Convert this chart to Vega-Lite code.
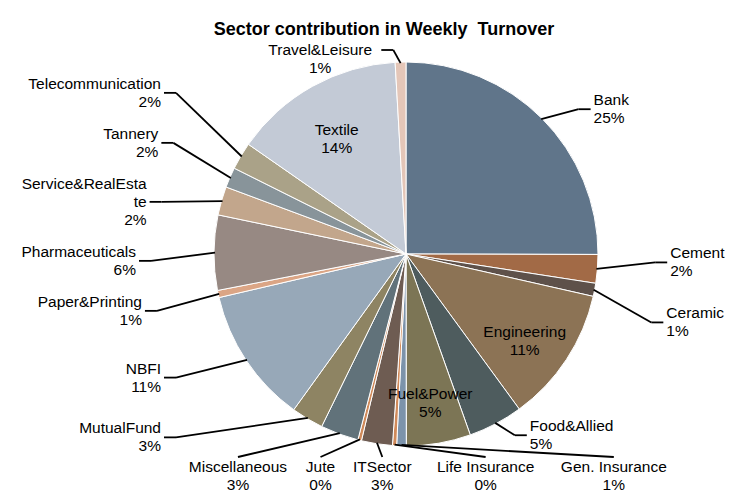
{
  "$schema": "https://vega.github.io/schema/vega-lite/v6.json",
  "width": 684,
  "height": 428,
  "autosize": "none",
  "padding": {"left": 64, "top": 40, "right": 0, "bottom": 26},
  "background": "white",
  "config": {"view": {"stroke": null}, "text": {"font": "Liberation Sans", "fontSize": 15.5, "lineHeight": 18, "color": "#000000"}},
  "title": {"text": "Sector contribution in Weekly \u00a0Turnover", "font": "Liberation Sans", "fontSize": 18, "fontWeight": "bold", "color": "#000000", "anchor": "middle", "dx": -22, "dy": 4, "offset": 5},
  "data": {"values": [
    {"sector": "Bank", "value": 25.0},
    {"sector": "Cement", "value": 2.4},
    {"sector": "Ceramic", "value": 1.1},
    {"sector": "Engineering", "value": 11.4},
    {"sector": "Food&Allied", "value": 4.6},
    {"sector": "Fuel&Power", "value": 5.4},
    {"sector": "Gen. Insurance", "value": 0.8},
    {"sector": "Life Insurance", "value": 0.35},
    {"sector": "ITSector", "value": 2.6},
    {"sector": "Jute", "value": 0.3},
    {"sector": "Miscellaneous", "value": 3.2},
    {"sector": "MutualFund", "value": 2.7},
    {"sector": "NBFI", "value": 11.4},
    {"sector": "Paper&Printing", "value": 0.6},
    {"sector": "Pharmaceuticals", "value": 6.3},
    {"sector": "Service&RealEstate", "value": 2.4},
    {"sector": "Tannery", "value": 1.7},
    {"sector": "Telecommunication", "value": 2.3},
    {"sector": "Textile", "value": 14.4},
    {"sector": "Travel&Leisure", "value": 0.9}
  ]},
  "transform": [
    {"window": [{"op": "row_number", "as": "idx"}]},
    {"joinaggregate": [{"op": "sum", "field": "value", "as": "total"}]},
    {"window": [{"op": "sum", "field": "value", "as": "cum"}], "sort": [{"field": "idx"}], "frame": [null, 0]},
    {"calculate": "(datum.cum - datum.value/2)/datum.total*2*PI", "as": "mid"},
    {"calculate": "format(datum.value/datum.total, '.0%')", "as": "pct"},
    {"calculate": "(length(datum.sector) > 17 ? substring(datum.sector, 0, 16) + '\\n' + substring(datum.sector, 16) : datum.sector) + '\\n' + datum.pct", "as": "label"},
    {"calculate": "length(datum.sector) > 17 ? 3 : 2", "as": "nl"},
    {"calculate": "indexof(['Textile', 'Engineering', 'Fuel&Power'], datum.sector) >= 0 ? 'I' : (datum.mid >= 5.847 || datum.mid < 0.436) ? 'T' : datum.mid < 2.688 ? 'R' : datum.mid < 3.595 ? 'B' : 'L'", "as": "side"},
    {"calculate": "datum.side == 'R' ? -205*cos(datum.mid) : datum.side == 'L' ? 205*cos(datum.mid) : datum.side == 'B' ? 208*tan(datum.mid - PI) : 0", "as": "q"},
    {"calculate": "datum.side == 'B' ? length(datum.sector)*8.3 : datum.nl*18", "as": "sz"},
    {"window": [{"op": "lag", "field": "sz", "as": "psz"}, {"op": "row_number", "as": "k"}], "groupby": ["side"], "sort": [{"field": "idx"}]},
    {"calculate": "datum.k == 1 ? 0 : (datum.psz + datum.sz)/2 + (datum.side == 'B' ? 12 : datum.side == 'R' ? 24 : 14)", "as": "sep"},
    {"window": [{"op": "sum", "field": "sep", "as": "G"}], "groupby": ["side"], "sort": [{"field": "idx"}], "frame": [null, 0]},
    {"calculate": "datum.q - datum.G", "as": "v"},
    {"window": [{"op": "max", "field": "v", "as": "vf"}], "groupby": ["side"], "sort": [{"field": "idx"}], "frame": [null, 0]},
    {"window": [{"op": "min", "field": "v", "as": "vb"}], "groupby": ["side"], "sort": [{"field": "idx"}], "frame": [0, null]},
    {"calculate": "datum.side == 'B' ? 0.3 : 0.8", "as": "w"},
    {"calculate": "datum.w*datum.vf + (1 - datum.w)*datum.vb + datum.G", "as": "qp"},
    {"calculate": "datum.side == 'R' ? 265*sin(datum.mid) : datum.side == 'L' ? -max(245, 270*abs(sin(datum.mid))) : datum.side == 'B' ? -datum.qp : datum.side == 'T' ? 205*sin(datum.mid) - 80 : 142*sin(datum.mid)", "as": "ax"},
    {"calculate": "datum.side == 'R' ? datum.qp : datum.side == 'L' ? -datum.qp : datum.side == 'B' ? 206 : datum.side == 'T' ? -195 : -142*cos(datum.mid)", "as": "ay"},
    {"calculate": "(datum.side == 'R' || datum.side == 'L' || datum.side == 'T') ? datum.ay - (datum.nl - 1)*9 : datum.ay", "as": "ty"},
    {"calculate": "191*sin(datum.mid)", "as": "sx"},
    {"calculate": "-191*cos(datum.mid)", "as": "sy"},
    {"calculate": "datum.side == 'R' ? datum.ax - 15 : datum.side == 'L' ? datum.ax + 15 : datum.side == 'T' ? datum.ax + length(datum.sector)*4.15 + 15 : datum.ax", "as": "ex"},
    {"calculate": "datum.side == 'B' ? datum.ay - 3 : datum.side == 'T' ? datum.ay - 9 : datum.ay", "as": "ey"},
    {"calculate": "datum.side == 'R' ? datum.ax - 3 : datum.side == 'L' ? datum.ax + 3 : datum.side == 'T' ? datum.ax + length(datum.sector)*4.15 + 3 : datum.ax", "as": "lx"}
  ],
  "layer": [
    {
      "mark": {"type": "arc", "outerRadius": 192, "stroke": "white", "strokeWidth": 1},
      "encoding": {
        "theta": {"field": "value", "type": "quantitative", "stack": true},
        "order": {"field": "idx", "type": "quantitative"},
        "color": {"field": "sector", "type": "nominal", "legend": null,
          "scale": {
            "domain": ["Bank", "Cement", "Ceramic", "Engineering", "Food&Allied", "Fuel&Power", "Gen. Insurance", "Life Insurance", "ITSector", "Jute", "Miscellaneous", "MutualFund", "NBFI", "Paper&Printing", "Pharmaceuticals", "Service&RealEstate", "Tannery", "Telecommunication", "Textile", "Travel&Leisure"],
            "range": ["#60758a", "#a26a46", "#5e514a", "#8c7355", "#4e5c5e", "#7c7555", "#7c93ab", "#d08a5a", "#6e5c52", "#d08a5a", "#61727a", "#8e8463", "#97a8b8", "#dba585", "#978983", "#c2a68c", "#88949a", "#aaa288", "#c3cad6", "#e4c6b8"]
          }
        }
      }
    },
    {
      "transform": [{"filter": "datum.side != 'I'"}],
      "mark": {"type": "rule", "color": "#000000", "strokeWidth": 1.8},
      "encoding": {
        "x": {"field": "sx", "type": "quantitative", "scale": {"domain": [-342, 342], "nice": false, "zero": false}, "axis": null},
        "y": {"field": "sy", "type": "quantitative", "scale": {"domain": [-214, 214], "nice": false, "zero": false, "reverse": true}, "axis": null},
        "x2": {"field": "ex"},
        "y2": {"field": "ey"}
      }
    },
    {
      "transform": [{"filter": "datum.side == 'R' || datum.side == 'L' || datum.side == 'T'"}],
      "mark": {"type": "rule", "color": "#000000", "strokeWidth": 1.8},
      "encoding": {
        "x": {"field": "ex", "type": "quantitative", "scale": {"domain": [-342, 342], "nice": false, "zero": false}, "axis": null},
        "y": {"field": "ey", "type": "quantitative", "scale": {"domain": [-214, 214], "nice": false, "zero": false, "reverse": true}, "axis": null},
        "x2": {"field": "lx"},
        "y2": {"field": "ey"}
      }
    },
    {
      "transform": [{"filter": "datum.side == 'R'"}],
      "mark": {"type": "text", "align": "left", "baseline": "middle", "lineBreak": "\n"},
      "encoding": {
        "x": {"field": "ax", "type": "quantitative", "scale": {"domain": [-342, 342], "nice": false, "zero": false}, "axis": null},
        "y": {"field": "ty", "type": "quantitative", "scale": {"domain": [-214, 214], "nice": false, "zero": false, "reverse": true}, "axis": null},
        "text": {"field": "label", "type": "nominal"}
      }
    },
    {
      "transform": [{"filter": "datum.side == 'L'"}],
      "mark": {"type": "text", "align": "right", "baseline": "middle", "lineBreak": "\n"},
      "encoding": {
        "x": {"field": "ax", "type": "quantitative", "scale": {"domain": [-342, 342], "nice": false, "zero": false}, "axis": null},
        "y": {"field": "ty", "type": "quantitative", "scale": {"domain": [-214, 214], "nice": false, "zero": false, "reverse": true}, "axis": null},
        "text": {"field": "label", "type": "nominal"}
      }
    },
    {
      "transform": [{"filter": "datum.side == 'B'"}],
      "mark": {"type": "text", "align": "center", "baseline": "top", "lineBreak": "\n"},
      "encoding": {
        "x": {"field": "ax", "type": "quantitative", "scale": {"domain": [-342, 342], "nice": false, "zero": false}, "axis": null},
        "y": {"field": "ty", "type": "quantitative", "scale": {"domain": [-214, 214], "nice": false, "zero": false, "reverse": true}, "axis": null},
        "text": {"field": "label", "type": "nominal"}
      }
    },
    {
      "transform": [{"filter": "datum.side == 'I' || datum.side == 'T'"}],
      "mark": {"type": "text", "align": "center", "baseline": "middle", "lineBreak": "\n"},
      "encoding": {
        "x": {"field": "ax", "type": "quantitative", "scale": {"domain": [-342, 342], "nice": false, "zero": false}, "axis": null},
        "y": {"field": "ty", "type": "quantitative", "scale": {"domain": [-214, 214], "nice": false, "zero": false, "reverse": true}, "axis": null},
        "text": {"field": "label", "type": "nominal"}
      }
    }
  ]
}
